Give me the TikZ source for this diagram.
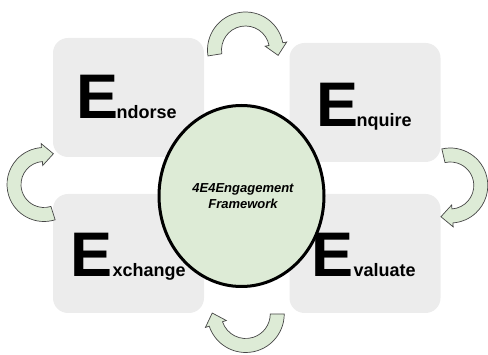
\documentclass[tikz,border=0pt]{standalone}
\usepackage{fontspec}
\setmainfont{Liberation Sans}
\usetikzlibrary{calc,shapes.geometric}

\definecolor{panelgray}{RGB}{236,236,236}
\definecolor{sage}{RGB}{221,235,214}
\definecolor{arrowline}{RGB}{70,70,70}

% Curved block arrow turning clockwise around a centre:
% #1 centre, #2 mid radius, #3 start angle, #4 end angle (where the head sits)
\newcommand\cyclearrow[4]{%
  \filldraw[turnarrow]
    ($(#1)+(#3:#2+7)$) arc[start angle=#3, end angle=#4, radius=#2+7]
    -- ($(#1)+(#4:#2+11)$)
    -- ($(#1)+(#4:#2)+(#4-90:11.5)$)
    -- ($(#1)+(#4:#2-11)$)
    -- ($(#1)+(#4:#2-7)$) arc[start angle=#4, end angle=#3, radius=#2-7]
    -- cycle;}

\begin{document}
\begin{tikzpicture}[x=1pt, y=1pt,
  panel/.style={fill=panelgray, rounded corners=15pt, inner sep=0pt,
    minimum width=151pt, minimum height=119pt},
  hub/.style={ellipse, draw=black, line width=3pt, fill=sage, inner sep=0pt,
    minimum width=165pt, minimum height=181pt},
  word/.style={anchor=base west, inner sep=0pt, font=\bfseries},
  hubtext/.style={anchor=base, inner sep=0pt,
    font=\fontsize{13}{16}\selectfont\bfseries\itshape},
  turnarrow/.style={fill=sage, draw=arrowline, line width=0.7pt, line join=miter}]

  \useasboundingbox (0,0) rectangle (488,-355);

  % the four stage panels
  \node[panel] (endorsebox)  at (128.5,-97.5)  {};
  \node[panel] (enquirebox)  at (365,-102.5)   {};
  \node[panel] (exchangebox) at (128.5,-253.5) {};
  \node[panel] (evaluatebox) at (365,-253.5)   {};

  % central hub
  \node[hub] (hub) at (241.5,-196) {};
  \node[hubtext] (hubline1) at (243,-193) {4E4Engagement};
  \node[hubtext] (hubline2) at (243,-209) {Framework};

  % stage names: a large initial E followed by the rest of the word
  \newcommand\bigE{\fontsize{63}{63}\selectfont E}
  \newcommand\restsize{\fontsize{18}{18}\selectfont}
  \node[word] (endorse)  at (76.5,-119)  {\bigE\kern-2pt\restsize ndorse};
  \node[word] (enquire)  at (316.5,-127) {\bigE\kern-2pt\restsize nquire};
  \node[word] (exchange) at (70.5,-277)  {\bigE\restsize xchange};
  \node[word] (evaluate) at (311.5,-277) {\bigE\restsize valuate};

  % clockwise cycle arrows between the panels
  \coordinate (topturn)    at (245.5,-50);
  \coordinate (rightturn)  at (450.3,-185.5);
  \coordinate (bottomturn) at (245.75,-314);
  \coordinate (leftturn)   at (44,-184.5);

  \cyclearrow{topturn}{31}{189}{11}
  \cyclearrow{rightturn}{30.5}{103}{-86}
  \cyclearrow{bottomturn}{31.5}{0}{-161.6}
  \cyclearrow{leftturn}{30}{-72.5}{-266}
\end{tikzpicture}
\end{document}
